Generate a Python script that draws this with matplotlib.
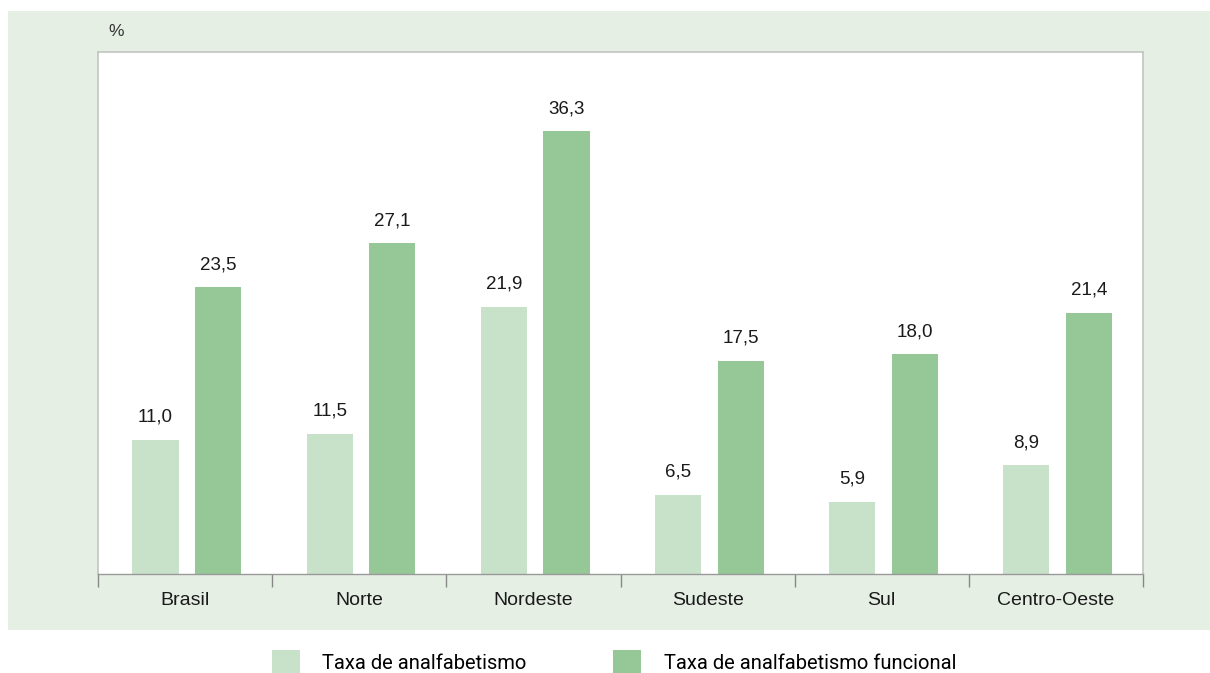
import matplotlib.pyplot as plt
import numpy as np
from matplotlib.patches import Rectangle

plt.rcParams['font.family'] = ['Liberation Sans', 'DejaVu Sans']

regioes = ['Brasil', 'Norte', 'Nordeste', 'Sudeste', 'Sul', 'Centro-Oeste']
analfabetismo = [11.0, 11.5, 21.9, 6.5, 5.9, 8.9]
analfabetismo_funcional = [23.5, 27.1, 36.3, 17.5, 18.0, 21.4]
nomes_series = ['Taxa de analfabetismo', 'Taxa de analfabetismo funcional']

cor_clara = '#c8e1c9'
cor_escura = '#95c797'
cor_fundo = '#e5efe4'

fig = plt.figure(figsize=(12.1, 6.73), dpi=100)

# faixa verde atras do grafico
fig.patches.append(Rectangle((8 / 1210, 1 - 630 / 673), 1 - 8 / 1210, (630 - 11) / 673,
                             transform=fig.transFigure, facecolor=cor_fundo,
                             edgecolor='none', zorder=-1))

ax = fig.add_axes([98 / 1210, 1 - 574 / 673, (1143 - 98) / 1210, (574 - 52) / 673])
ax.set_facecolor('white')

x = np.arange(len(regioes))
largura = 0.265
b1 = ax.bar(x - 0.17, analfabetismo, largura, color=cor_clara, label=nomes_series[0])
b2 = ax.bar(x + 0.19, analfabetismo_funcional, largura, color=cor_escura, label=nomes_series[1])

for barras, valores in [(b1, analfabetismo), (b2, analfabetismo_funcional)]:
    for b, v in zip(barras, valores):
        ax.annotate(f'{v:.1f}'.replace('.', ','),
                    (b.get_x() + b.get_width() / 2, v),
                    xytext=(0, 13), textcoords='offset points',
                    ha='center', va='baseline', fontsize=13.5, color='#1a1a1a')

ax.set_xlim(-0.5, len(regioes) - 0.5)
ax.set_ylim(0, 42.8)
ax.set_yticks([])
ax.set_xticks(x)
ax.set_xticklabels(regioes, fontsize=14, color='#1a1a1a')
ax.tick_params(axis='x', which='major', length=0, pad=13)
ax.set_xticks(np.arange(-0.5, len(regioes)), minor=True)
ax.tick_params(axis='x', which='minor', length=9, width=1, color='#888888')

for lado in ['top', 'right', 'left']:
    ax.spines[lado].set_color('#c4c4c4')
    ax.spines[lado].set_linewidth(1.2)
ax.spines['bottom'].set_color('#999999')
ax.spines['bottom'].set_linewidth(1)

fig.text(108 / 1210, 1 - 31 / 673, '%', fontsize=12.5, color='#333333', va='center')

fig.legend(handles=[b1, b2], loc='center', bbox_to_anchor=(614 / 1210, 1 - 662 / 673),
           ncol=2, frameon=False, prop={'family': 'Roboto', 'size': 14.5},
           handlelength=1.4, handleheight=1.4, handletextpad=1.1, columnspacing=4.3)

fig.savefig('out.png', dpi=100)
